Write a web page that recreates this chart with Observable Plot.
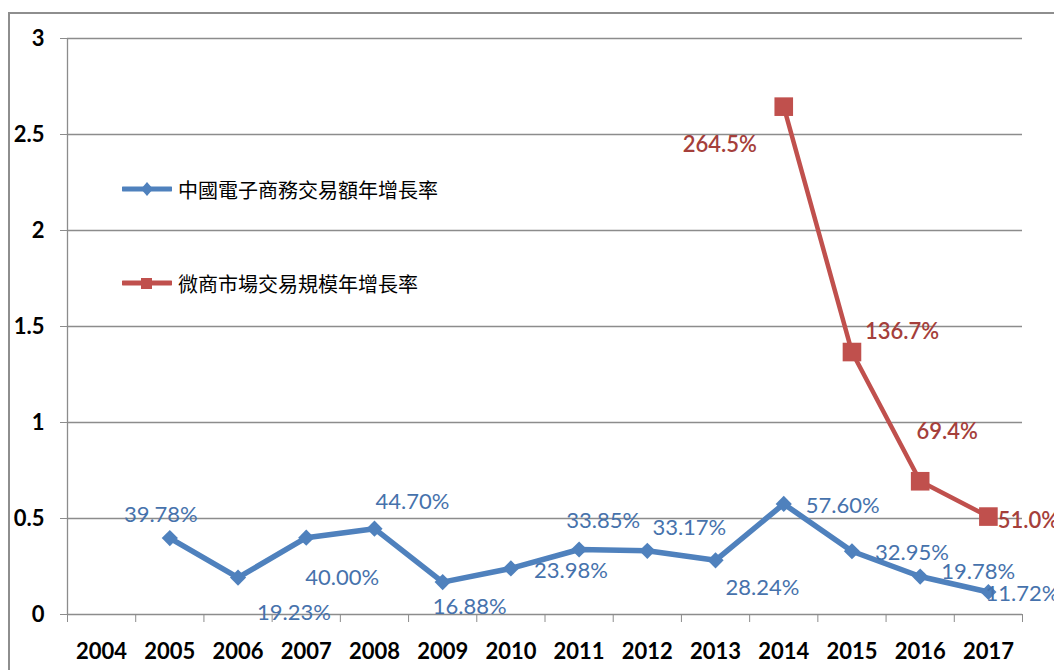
<!DOCTYPE html>
<html>
<head>
<meta charset="utf-8">
<script src="https://cdn.jsdelivr.net/npm/d3@7"></script>
<script src="https://cdn.jsdelivr.net/npm/@observablehq/plot@0.6"></script>
<style>
  html, body { margin: 0; padding: 0; background: #fff; overflow: hidden; }
  #wrap { position: relative; width: 1054px; height: 670px; overflow: hidden; }
  #border { position: absolute; left: 8px; top: 12px; width: 1100px; height: 720px; border: 2px solid #8e8e8e; box-sizing: border-box; }
  .leg { position: absolute; left: 122px; display: flex; align-items: center; height: 26px;
         font-family: "Noto Sans CJK TC", sans-serif; font-size: 20px; color: #000; }
  .leg svg { margin-right: 6px; }
</style>
</head>
<body>
<div id="wrap">
  <div id="border"></div>
  <div id="chart"></div>
  <div id="legend"></div>
</div>
<script>
// ---- data ----
const years = [2004, 2005, 2006, 2007, 2008, 2009, 2010, 2011, 2012, 2013, 2014, 2015, 2016, 2017];
const ecYears = [2005, 2006, 2007, 2008, 2009, 2010, 2011, 2012, 2013, 2014, 2015, 2016, 2017];
const ecGrowth = [0.3978, 0.1923, 0.4000, 0.4470, 0.1688, 0.2398, 0.3385, 0.3317, 0.2824, 0.5760, 0.3295, 0.1978, 0.1172];
const ecLabels = ["39.78%", "19.23%", "40.00%", "44.70%", "16.88%", "23.98%", "33.85%", "33.17%", "28.24%", "57.60%", "32.95%", "19.78%", "11.72%"];
const wsYears = [2014, 2015, 2016, 2017];
const wsGrowth = [2.645, 1.367, 0.694, 0.510];
const wsLabels = ["264.5%", "136.7%", "69.4%", "51.0%"];
const yTicks = [0, 0.5, 1, 1.5, 2, 2.5, 3];
const seriesNames = ["中國電子商務交易額年增長率", "微商市場交易規模年增長率"];

// ---- label layout (pixel offsets from each point) ----
const ecLabelOffsets = [[-9, -23], [56, 35], [36, 40], [38, -27], [27, 25], [60, 2], [24, -29], [42, -23], [47, 28], [59, 2], [60, 2], [58, -5], [34, 2]];
const wsLabelOffsets = [[-64, 38], [50, -20], [27, -49], [40, 4]];

const blue = "#4F81BD", red = "#C0504D";
const blueText = "#4672AC", redText = "#A53F3B";
const grid = "#8c8c8c";

const ec = ecYears.map((y, i) => ({year: y, value: ecGrowth[i], label: ecLabels[i]}));
const ws = wsYears.map((y, i) => ({year: y, value: wsGrowth[i], label: wsLabels[i]}));
const bounds = years.map(y => y - 0.5).concat([years[years.length - 1] + 0.5]);

const labelFont = "Lato, 'Open Sans', sans-serif";

const chart = Plot.plot({
  width: 1054,
  height: 670,
  marginLeft: 67,
  marginRight: 32,
  marginTop: 38,
  marginBottom: 56,
  x: {domain: [bounds[0], bounds[bounds.length - 1]]},
  y: {domain: [0, 3]},
  style: {fontFamily: labelFont, background: "transparent", overflow: "visible"},
  marks: [
    Plot.ruleY(yTicks, {stroke: grid, strokeWidth: 1.3}),
    Plot.ruleX([bounds[0]], {stroke: grid, strokeWidth: 1.3}),
    Plot.axisY(yTicks, {tickSize: 7, tickPadding: 16, tickFormat: d => String(d), fontSize: 22, fontWeight: "bold", label: null, stroke: grid, fill: "#000"}),
    Plot.axisX(bounds, {tickSize: 8, tickFormat: () => "", label: null, stroke: grid}),
    Plot.axisX(years, {tickSize: 0, tickPadding: 29, tickFormat: d => String(d), fontSize: 22, fontWeight: "bold", label: null, fill: "#000"}),
    Plot.line(ec, {x: "year", y: "value", stroke: blue, strokeWidth: 5.5, strokeLinejoin: "round"}),
    Plot.dot(ec, {x: "year", y: "value", symbol: "diamond2", r: 7.3, fill: blue, stroke: "none"}),
    Plot.line(ws, {x: "year", y: "value", stroke: red, strokeWidth: 4.5, strokeLinejoin: "round"}),
    Plot.dot(ws, {x: "year", y: "value", symbol: "square", r: 10.5, fill: red, stroke: "none"}),
    ...ec.map((d, i) => Plot.text([d], {x: "year", y: "value", text: "label", dx: ecLabelOffsets[i][0], dy: ecLabelOffsets[i][1], fill: blueText, fontSize: 22, fontFamily: labelFont})),
    ...ws.map((d, i) => Plot.text([d], {x: "year", y: "value", text: "label", dx: wsLabelOffsets[i][0], dy: wsLabelOffsets[i][1], fill: redText, fontSize: 22, fontWeight: 600, fontFamily: labelFont}))
  ]
});
document.getElementById("chart").appendChild(chart);

// ---- legend (overlay inside plot area) ----
const legend = document.getElementById("legend");
const legTops = [176, 270];
const legColors = [blue, red];
seriesNames.forEach((name, i) => {
  const div = document.createElement("div");
  div.className = "leg";
  div.style.top = legTops[i] + "px";
  const marker = i === 0
    ? `<path d="M25,6 L31,13 L25,20 L19,13 Z" fill="${blue}"/>`
    : `<rect x="19" y="8" width="11" height="11" fill="${red}"/>`;
  div.innerHTML = `<svg width="50" height="26"><line x1="1" x2="49" y1="13" y2="13" stroke="${legColors[i]}" stroke-width="5" stroke-linecap="round"/>${marker}</svg><span>${name}</span>`;
  legend.appendChild(div);
});
</script>
</body>
</html>
